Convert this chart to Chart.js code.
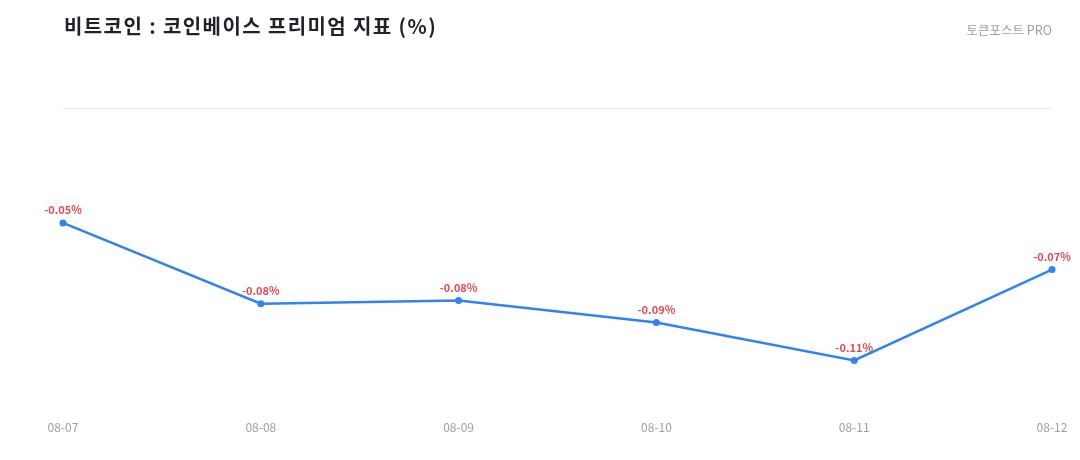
<!DOCTYPE html>
<html>
<head>
<meta charset="utf-8">
<script src="https://cdn.jsdelivr.net/npm/chart.js@4.4.1/dist/chart.umd.min.js"></script>
<style>
  html, body { margin: 0; padding: 0; background: #ffffff; }
  #wrap { position: relative; width: 1080px; height: 460px; font-family: "Noto Sans CJK KR", "Noto Sans", sans-serif; }
  #title { position: absolute; left: 64px; top: 12px; font-size: 20px; font-weight: 700; color: #1f2329; line-height: 28px; letter-spacing: 1.4px; white-space: nowrap; }
  #brand { position: absolute; right: 28px; top: 21px; font-size: 12.5px; color: #9aa0a8; line-height: 18px; white-space: nowrap; }
  canvas { position: absolute; left: 0; top: 0; }
</style>
</head>
<body>
<div id="wrap">
  <canvas id="c" width="1080" height="460"></canvas>
  <div id="title">비트코인 : 코인베이스 프리미엄 지표 (%)</div>
  <div id="brand">토큰포스트 PRO</div>
</div>
<script>
const categories = ["08-07", "08-08", "08-09", "08-10", "08-11", "08-12"];
const premiumValues = [-0.0488, -0.0831, -0.0818, -0.0911, -0.1072, -0.0686];
const yRange = [-0.13, 0];

const FONT = '"Noto Sans CJK KR", "Noto Sans", sans-serif';

const valueLabels = {
  id: 'valueLabels',
  afterDatasetsDraw(chart) {
    const ctx = chart.ctx;
    const meta = chart.getDatasetMeta(0);
    const data = chart.data.datasets[0].data;
    ctx.save();
    ctx.font = 'bold 11px ' + FONT;
    ctx.fillStyle = '#e5484d';
    ctx.textAlign = 'center';
    ctx.textBaseline = 'middle';
    meta.data.forEach((pt, i) => {
      ctx.fillText(data[i].toFixed(2) + '%', pt.x, pt.y - 13);
    });
    ctx.restore();
  }
};

new Chart(document.getElementById('c'), {
  type: 'line',
  data: {
    labels: categories,
    datasets: [{
      data: premiumValues,
      borderColor: '#3083f0',
      backgroundColor: '#3083f0',
      borderWidth: 2.5,
      pointRadius: 3.5,
      pointBackgroundColor: '#3083f0',
      pointBorderWidth: 0,
      tension: 0,
      fill: false
    }]
  },
  options: {
    responsive: false,
    animation: false,
    devicePixelRatio: 1,
    layout: { padding: { left: 63, right: 28, top: 108, bottom: 19.5 } },
    plugins: { legend: { display: false }, tooltip: { enabled: false } },
    scales: {
      x: {
        offset: false,
        grid: { display: false, drawTicks: false, tickLength: 0 },
        border: { display: false },
        ticks: { color: '#9aa0a8', font: { family: FONT, size: 12 }, padding: 6, maxRotation: 0 }
      },
      y: {
        min: yRange[0],
        max: yRange[1],
        grid: {
          drawTicks: false,
          tickLength: 0,
          color: (c) => (c.tick && c.tick.value === 0 ? '#e8eaee' : 'rgba(0,0,0,0)'),
          lineWidth: 1
        },
        border: { display: false },
        ticks: { display: false }
      }
    }
  },
  plugins: [valueLabels]
});
</script>
</body>
</html>
